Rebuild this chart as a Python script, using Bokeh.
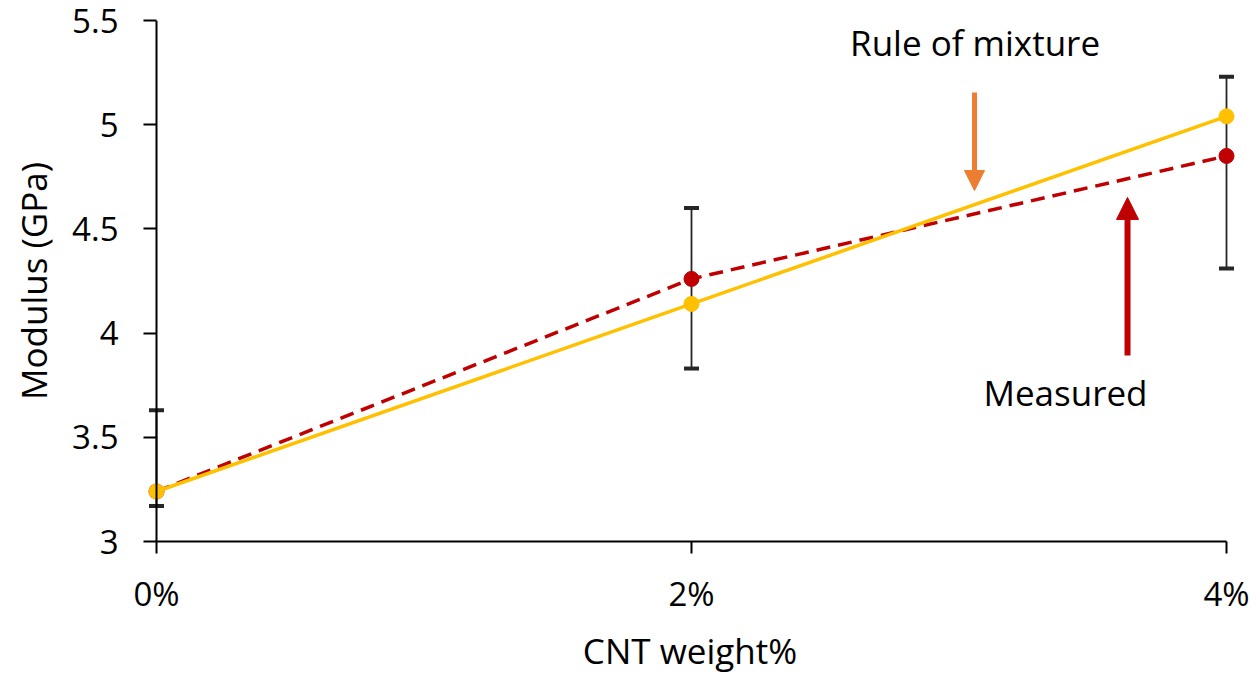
from bokeh.plotting import figure
from bokeh.models import (ColumnDataSource, FixedTicker, Whisker, TeeHead, Arrow,
                          NormalHead, Label, Span)
from bokeh.embed import file_html
from bokeh.resources import INLINE

# ---- data ----
cnt_weight = [0, 2, 4]
x_tick_labels = ["0%", "2%", "4%"]
y_ticks = [3, 3.5, 4, 4.5, 5, 5.5]
y_tick_labels = ["3", "3.5", "4", "4.5", "5", "5.5"]
measured = [3.24, 4.26, 4.85]
rule_of_mixture = [3.24, 4.14, 5.04]
err_upper = [3.63, 4.60, 5.23]
err_lower = [3.17, 3.83, 4.31]

FONT = "Open Sans"
TICK_FS = "33px"
TEXT_FS = "35px"

src = ColumnDataSource(dict(x=cnt_weight, measured=measured, rom=rule_of_mixture,
                            upper=err_upper, lower=err_lower))

PX = 267.5                 # pixels per x unit
PAD_L = 13 / PX            # room for y ticks drawn inside the frame
PAD_R = 10 / PX            # room so the last markers are not clipped
p = figure(width=1258, height=676, output_backend="svg", toolbar_location=None,
           x_range=(0 - PAD_L, 4 + PAD_R), y_range=(3, 5.5),
           min_border_left=143, min_border_right=22, min_border_top=20,
           min_border_bottom=135)
p.outline_line_color = None
p.xgrid.visible = False
p.ygrid.visible = False

# y axis line at 0%
p.add_layout(Span(location=0, dimension="height", line_color="#000000",
                  line_width=2))

# error bars
wh = Whisker(source=src, base="x", upper="upper", lower="lower",
             line_color="#262626", line_width=1.8,
             upper_head=TeeHead(size=15, line_width=4, line_color="#262626"),
             lower_head=TeeHead(size=15, line_width=4, line_color="#262626"))
p.add_layout(wh)

# measured (red dashed)
p.line("x", "measured", source=src, line_color="#C00000", line_width=3.5,
       line_dash="14 8")
p.scatter("x", "measured", source=src, size=15, fill_color="#C00000",
          line_color="#C00000")
# rule of mixture (yellow solid)
p.line("x", "rom", source=src, line_color="#FFC000", line_width=3.5)
p.scatter("x", "rom", source=src, size=15, fill_color="#FFC000",
          line_color="#FFC000")

# annotations
p.add_layout(Arrow(x_start=3.058, y_start=5.155, x_end=3.058, y_end=4.684,
                   line_color="#ED7D31", line_width=5,
                   end=NormalHead(size=20, fill_color="#ED7D31",
                                  line_color="#ED7D31", line_width=1)))
p.add_layout(Arrow(x_start=3.63, y_start=3.893, x_end=3.63, y_end=4.651,
                   line_color="#C00000", line_width=6,
                   end=NormalHead(size=22, fill_color="#C00000",
                                  line_color="#C00000", line_width=1)))
p.add_layout(Label(x=3.06, y=5.394, text="Rule of mixture", text_align="center",
                   text_baseline="middle", text_font=FONT, text_font_size=TEXT_FS,
                   text_color="#000000"))
p.add_layout(Label(x=3.398, y=3.715, text="Measured", text_align="center",
                   text_baseline="middle", text_font=FONT, text_font_size=TEXT_FS,
                   text_color="#000000"))

# axes
p.xaxis.ticker = FixedTicker(ticks=cnt_weight)
p.xaxis.major_label_overrides = {t: l for t, l in zip(cnt_weight, x_tick_labels)}
p.xaxis.bounds = (0, 4)
p.yaxis.ticker = FixedTicker(ticks=y_ticks)
p.yaxis.major_label_overrides = {t: l for t, l in zip(y_ticks, y_tick_labels)}

for ax in (p.xaxis[0], p.yaxis[0]):
    ax.axis_line_color = "#000000"
    ax.axis_line_width = 2
    ax.major_tick_line_color = "#000000"
    ax.major_tick_line_width = 2
    ax.major_tick_out = 12
    ax.major_tick_in = 0
    ax.minor_tick_line_color = None
    ax.major_label_text_font = FONT
    ax.major_label_text_font_size = TICK_FS
    ax.major_label_text_color = "#000000"
    ax.axis_label_text_font = FONT
    ax.axis_label_text_font_size = TEXT_FS
    ax.axis_label_text_font_style = "normal"
    ax.axis_label_text_color = "#000000"

# y axis sits at the frame edge; its ticks reach in to the 0% line
p.yaxis.axis_line_color = None
p.yaxis.major_tick_out = 0
p.yaxis.major_tick_in = 13

p.xaxis.axis_label = "CNT weight%"
p.yaxis.axis_label = "Modulus (GPa)"
p.xaxis.major_label_standoff = 17
p.yaxis.major_label_standoff = 25
p.xaxis.axis_label_standoff = 8
p.yaxis.axis_label_standoff = 12

open("out.html", "w").write(file_html(p, INLINE))
